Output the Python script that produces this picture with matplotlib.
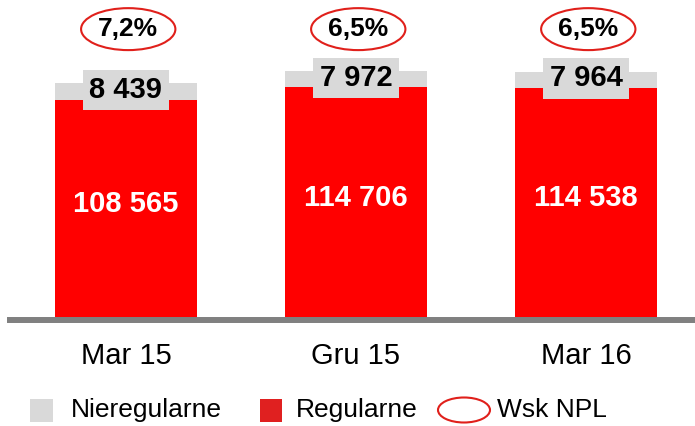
import matplotlib.pyplot as plt
from matplotlib.patches import Ellipse, Rectangle

plt.rcParams['font.family'] = ['Liberation Sans', 'DejaVu Sans']

categories = ["Mar 15", "Gru 15", "Mar 16"]
regularne = [108565, 114706, 114538]
nieregularne = [8439, 7972, 7964]
npl = ["7,2%", "6,5%", "6,5%"]

RED = '#ff0000'
GREY = '#d9d9d9'

fig = plt.figure(figsize=(6.95, 4.26), dpi=100)
ax = fig.add_axes([10 / 695, 1 - 320 / 426, 685 / 695, 320 / 426])

x = list(range(len(categories)))
ax.bar(x, regularne, width=0.62, color=RED, zorder=2)
ax.bar(x, nieregularne, width=0.62, bottom=regularne, color=GREY, zorder=2)

for i in x:
    ax.annotate(f"{regularne[i]:,}".replace(",", " "), (i, regularne[i] / 2),
                xytext=(0, 4), textcoords='offset points', ha='center', va='center',
                color='white', fontsize=21, fontweight='bold', zorder=4)
    ax.annotate(f"{nieregularne[i]:,}".replace(",", " "), (i, regularne[i] + nieregularne[i] / 2),
                xytext=(0, 1), textcoords='offset points',
                ha='center', va='center', fontsize=21, fontweight='bold', color='black', zorder=4,
                bbox=dict(boxstyle='square,pad=0.22', fc=GREY, ec='none'))
    # NPL ellipse
    ax.add_patch(Ellipse((i + 0.01, 143500), 0.41, 20700, fc='white', ec='#e0201b', lw=1.5, zorder=3))
    ax.text(i + 0.01, 143500, npl[i], ha='center', va='center', fontsize=19, fontweight='bold', zorder=4)

ax.set_xlim(-0.504, 2.474)
ax.set_ylim(0, 157870)
ax.axis('off')
ax.axhline(0, color='#808080', lw=4.3, zorder=5, clip_on=False)

for i, c in enumerate(categories):
    ax.annotate(c, (i, 0), xytext=(0, -26), textcoords='offset points',
                ha='center', va='center', fontsize=21)

# legend
def fx(px):
    return px / 695

def fy(py):
    return 1 - py / 426

fig.patches.append(Rectangle((fx(30), fy(422)), 23 / 695, 23 / 426, fc=GREY, ec='none',
                             transform=fig.transFigure, figure=fig))
fig.text(fx(71), fy(410), "Nieregularne", fontsize=19, va='center')
fig.patches.append(Rectangle((fx(260), fy(422)), 22 / 695, 23 / 426, fc='#e02020', ec='none',
                             transform=fig.transFigure, figure=fig))
fig.text(fx(296), fy(410), "Regularne", fontsize=19, va='center')
fig.patches.append(Ellipse((fx(464), fy(410)), 52 / 695, 25 / 426, fc='white', ec='#e0201b', lw=1.5,
                           transform=fig.transFigure, figure=fig))
fig.text(fx(497), fy(410), "Wsk NPL", fontsize=19, va='center')

fig.savefig('out.png', dpi=100)
